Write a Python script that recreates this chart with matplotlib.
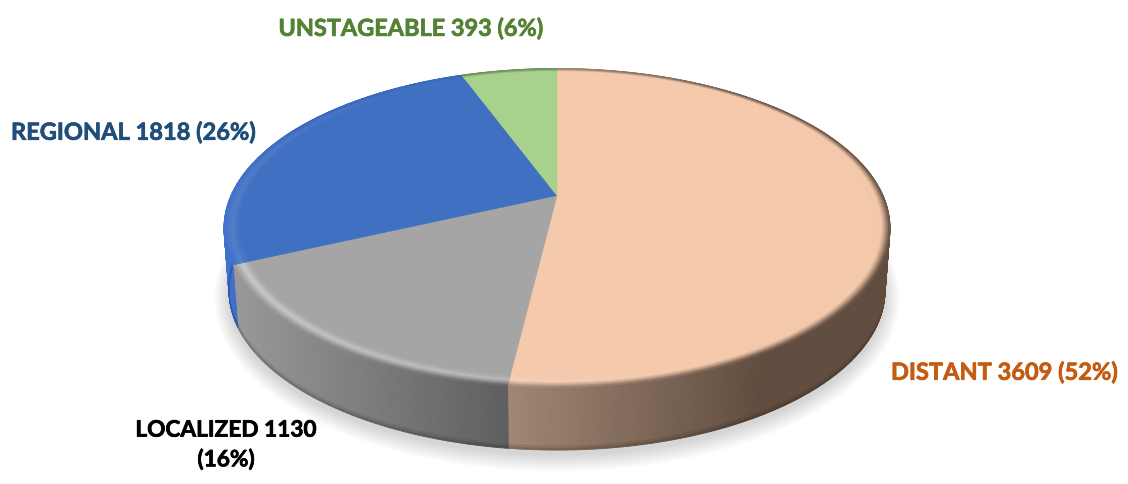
import numpy as np
import matplotlib
matplotlib.use("Agg")
import matplotlib.pyplot as plt
import matplotlib.patheffects as pe
from matplotlib.collections import PolyCollection
from matplotlib.patches import Polygon

# --- data -------------------------------------------------------------
categories = ["DISTANT", "LOCALIZED", "REGIONAL", "UNSTAGEABLE"]
values = [3609, 1130, 1818, 393]

# --- style ------------------------------------------------------------
top_colors = ["#f5c9ab", "#a5a5a5", "#4070c2", "#a9d18e"]
label_colors = ["#c55a11", "#000000", "#1f4e79", "#548235"]
highlight = [0.35, 0.50, 0.14, 0.10]
side_stops = [
    ((510, 760), ("#a08674", "#614d3f")),
    ((236, 510), ("#989898", "#5e5e5e")),
    ((224, 300), ("#3f72cc", "#3a69bc")),
    ((460, 560), ("#6a8a58", "#6a8a58")),
]
CX, CY, A, B, K = 557.0, 196.5, 326.0, 152.9, 0.204
DEPTH, BOTTOM_SCALE = 62.5, 0.985
BEVEL = 0.045


def rgb(c):
    return np.array(matplotlib.colors.to_rgb(c))


def project(phi, r=1.0, scale=1.0, dy=0.0):
    x, y = r * np.sin(phi), r * np.cos(phi)
    w = 1 + K * y
    return np.column_stack((CX + scale * A * x / w, CY - B * y / w + dy))


def side_color(i, xpos):
    (x0, x1), (c0, c1) = side_stops[i]
    f = np.clip((xpos - x0) / (x1 - x0), 0, 1)
    return rgb(c0) * (1 - f) + rgb(c1) * f


fig = plt.figure(figsize=(11.28, 4.85), dpi=100)
ax = fig.add_axes([0, 0, 1, 1])
ax.set_xlim(0, 1128)
ax.set_ylim(485, 0)
ax.set_axis_off()

fractions = np.array(values, dtype=float) / np.sum(values)
edges = np.concatenate(([0.0], np.cumsum(fractions))) * 2 * np.pi

# soft shadow under the base
full = np.linspace(0, 2 * np.pi, 361)
for g in np.linspace(0, 1, 14):
    grow = 1 + 0.045 * (1 - g)
    pts = project(full, scale=BOTTOM_SCALE, dy=DEPTH + 2)
    pts[:, 0] = CX + (pts[:, 0] - CX) * grow
    ym = CY + DEPTH
    pts[:, 1] = ym + (pts[:, 1] - ym) * (1 + 0.085 * (1 - g)) + 3
    ax.add_patch(Polygon(pts, closed=True, fc="#000000", ec="none", alpha=0.012, zorder=1))

# extruded side, with a darker thin lower edge
side_v = np.array([0, 0.3, 0.6, 0.93, 0.97, 1.0])
side_dark = np.array([1, 1, 1, 1, 0.92, 0.8])
for i in range(len(values)):
    phis = np.arange(edges[i], edges[i + 1] + 1e-9, np.radians(0.5))
    phis = np.append(phis, edges[i + 1])
    polys, cols = [], []
    topline = project(phis)
    lowline = project(phis, scale=BOTTOM_SCALE, dy=DEPTH)
    for j in range(len(phis) - 1):
        col = side_color(i, 0.5 * (topline[j, 0] + topline[j + 1, 0]))
        for v in range(len(side_v) - 1):
            a0, a1 = side_v[v], side_v[v + 1]
            polys.append([
                topline[j] * (1 - a0) + lowline[j] * a0,
                topline[j + 1] * (1 - a0) + lowline[j + 1] * a0,
                topline[j + 1] * (1 - a1) + lowline[j + 1] * a1,
                topline[j] * (1 - a1) + lowline[j] * a1,
            ])
            cols.append(col * side_dark[v + 1])
    pc = PolyCollection(polys, facecolors=cols, edgecolors=cols, linewidths=0.6, zorder=2)
    pc.set_snap(False)
    ax.add_collection(pc)

# top face: flat wedge plus a shaded bevel ring
rings = np.linspace(1 - BEVEL, 1.0, 11)
for i in range(len(values)):
    base = rgb(top_colors[i])
    phis = np.arange(edges[i], edges[i + 1] + 1e-9, np.radians(0.5))
    phis = np.append(phis, edges[i + 1])
    inner = project(phis, r=rings[0])
    apex = project(np.array([0.0]), r=0.0)
    ax.add_patch(Polygon(np.vstack((apex, inner)), closed=True, fc=base, ec=base, lw=0.4, zorder=3))
    polys, cols = [], []
    for j in range(len(phis) - 1):
        pm = 0.5 * (phis[j] + phis[j + 1])
        h = np.clip(-0.7 * np.sin(pm) - 0.3 * np.cos(pm), 0, 1)
        lit = base + (1 - base) * highlight[i] * h
        end = side_color(i, project(np.array([pm]))[0, 0])
        for k in range(len(rings) - 1):
            t = (k + 0.5) / (len(rings) - 1)
            if t < 0.45:
                c = base + (lit - base) * (t / 0.45)
            else:
                c = lit + (end - lit) * ((t - 0.45) / 0.55) ** 1.2
            a = project(phis[j:j + 2], r=rings[k])
            b = project(phis[j:j + 2], r=rings[k + 1])
            polys.append([a[0], a[1], b[1], b[0]])
            cols.append(c)
    pc = PolyCollection(polys, facecolors=cols, edgecolors=cols, linewidths=0.5, zorder=4)
    pc.set_snap(False)
    ax.add_collection(pc)

# labels
font = dict(family="Lato", fontweight="bold", zorder=6)
texts = [f"{c} {v} ({round(100 * f)}%)" for c, v, f in zip(categories, values, fractions)]
labels = [
    ax.text(891, 373, texts[0], color=label_colors[0], ha="left", va="center", fontsize=17, **font),
    ax.text(226, 446, texts[1].replace(" (", "\n("), color=label_colors[1], ha="center", va="center",
            linespacing=1.45, fontsize=16.3, **font),
    ax.text(11, 133, texts[2], color=label_colors[2], ha="left", va="center", fontsize=17, **font),
    ax.text(411, 30, texts[3], color=label_colors[3], ha="center", va="center", fontsize=16.9, **font),
]
for t, c in zip(labels, label_colors):
    t.set_path_effects([pe.withStroke(linewidth=0.5, foreground=c)])

fig.savefig("out.png", dpi=100)
